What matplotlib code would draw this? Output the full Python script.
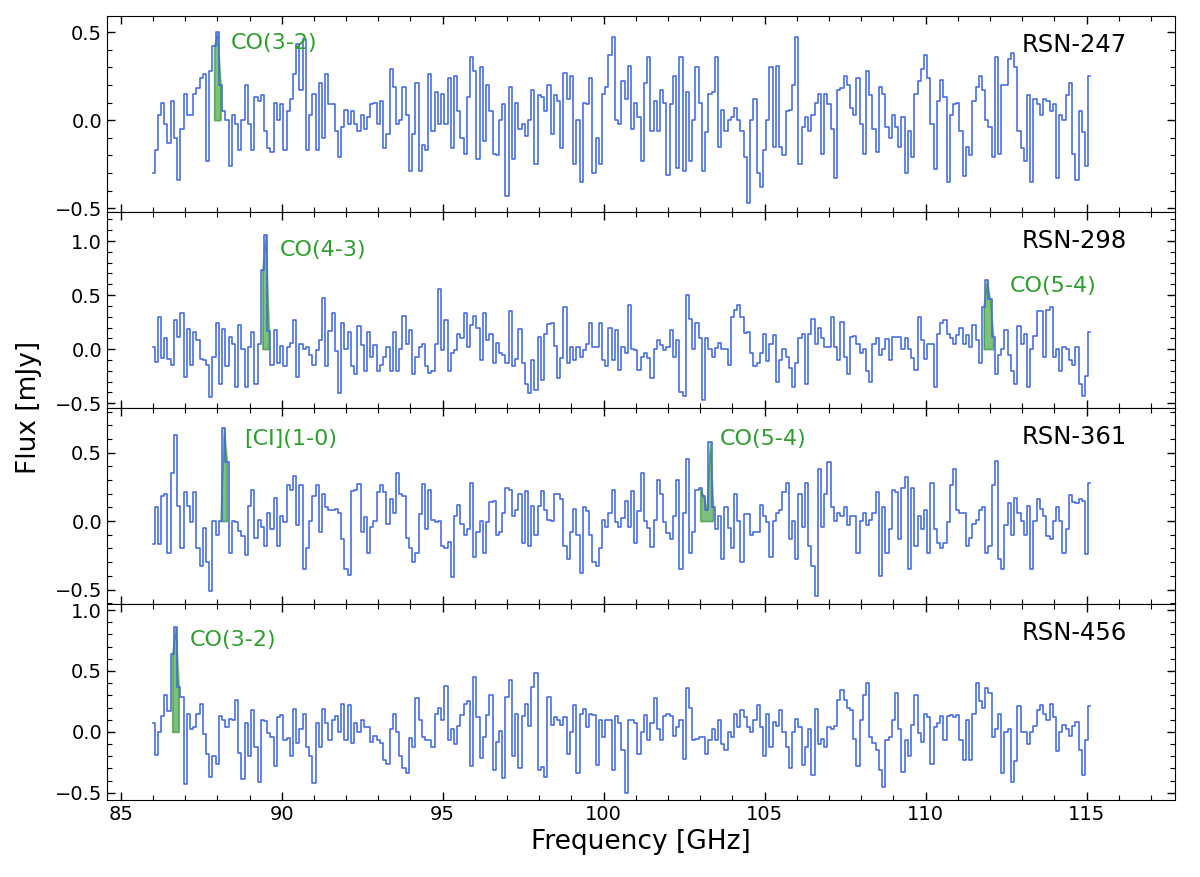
import numpy as np
import matplotlib
matplotlib.use("Agg")
import matplotlib.pyplot as plt
from matplotlib.ticker import MultipleLocator, AutoMinorLocator

# channel start frequency and width (GHz)
f_start = 86.0
chan_width = 0.1

sources = ["RSN-247", "RSN-298", "RSN-361", "RSN-456"]

flux_rsn247 = [
    -0.30, -0.17, 0.03, 0.10, -0.02, -0.13, 0.11, -0.10, -0.34, -0.05,
    0.15, 0.03, 0.03, 0.15, 0.18, 0.24, 0.26, -0.23, 0.28, 0.42,
    0.50, 0.20, 0.05, 0.00, -0.26, 0.03, -0.02, -0.17, 0.00, 0.20,
    -0.02, -0.17, 0.13, 0.11, 0.14, -0.06, -0.16, -0.18, 0.10, 0.00,
    0.09, -0.17, 0.05, 0.12, 0.26, 0.43, 0.17, 0.46, -0.17, 0.03,
    0.15, -0.17, 0.21, -0.10, 0.26, 0.09, 0.09, -0.06, -0.21, -0.04,
    0.06, -0.02, 0.05, -0.02, -0.06, 0.03, -0.05, 0.02, 0.09, 0.10,
    -0.02, 0.11, -0.16, -0.08, 0.29, 0.19, -0.02, 0.00, 0.19, 0.03,
    -0.29, -0.08, 0.21, -0.29, -0.14, -0.17, 0.26, -0.06, 0.16, -0.02,
    0.15, -0.02, 0.24, -0.16, 0.25, 0.05, -0.10, -0.19, 0.13, 0.36,
    0.28, -0.22, 0.30, -0.12, 0.20, 0.05, -0.19, -0.20, 0.00, 0.09,
    -0.43, 0.19, -0.22, 0.10, -0.05, -0.02, -0.09, 0.00, 0.17, -0.25,
    0.14, 0.13, 0.05, 0.20, -0.08, 0.14, 0.11, -0.16, 0.27, 0.12,
    0.25, -0.25, 0.00, -0.35, 0.10, 0.09, 0.24, -0.30, -0.10, -0.25,
    0.15, 0.19, 0.37, 0.47, 0.00, -0.02, 0.22, 0.12, 0.31, -0.05,
    0.10, 0.02, -0.23, 0.21, 0.36, -0.06, 0.11, -0.06, 0.17, 0.10,
    -0.31, 0.09, 0.25, -0.27, 0.36, -0.29, 0.16, -0.23, 0.00, 0.30,
    0.10, -0.29, -0.07, 0.15, 0.16, 0.36, -0.15, 0.06, -0.06, 0.00,
    0.02, 0.07, 0.00, -0.06, -0.21, -0.47, 0.00, 0.12, -0.30, -0.38,
    -0.17, 0.00, 0.30, -0.15, 0.31, -0.15, -0.20, 0.05, 0.06, 0.20,
    0.47, -0.25, -0.04, 0.02, -0.06, 0.03, 0.10, 0.15, -0.19, 0.15,
    0.09, -0.05, -0.33, 0.17, 0.18, 0.25, 0.20, 0.07, 0.03, 0.24,
    -0.02, -0.19, 0.28, 0.14, -0.05, -0.18, 0.19, 0.15, -0.04, -0.10,
    0.03, -0.04, -0.15, 0.02, -0.30, -0.06, -0.21, 0.15, 0.22, 0.29,
    0.37, 0.24, -0.02, -0.28, 0.11, 0.23, 0.13, -0.35, 0.03, 0.09,
    0.10, -0.06, -0.32, -0.15, -0.20, 0.11, 0.19, 0.25, 0.17, 0.00,
    -0.04, -0.21, 0.36, -0.19, 0.20, 0.20, 0.35, 0.38, 0.30, -0.06,
    -0.16, -0.23, 0.14, -0.35, 0.12, 0.09, 0.03, 0.12, 0.11, 0.05,
    0.09, -0.33, 0.03, 0.00, 0.14, 0.21, -0.19, -0.34, 0.05, -0.07,
    -0.26, 0.25,
]

flux_rsn298 = [
    0.02, -0.12, 0.30, -0.08, 0.10, -0.09, -0.15, 0.27, 0.11, 0.33,
    -0.26, 0.19, -0.15, 0.16, 0.08, -0.09, -0.10, -0.15, -0.44, -0.07,
    0.24, -0.32, 0.19, -0.16, 0.11, 0.05, -0.35, 0.22, 0.00, -0.35,
    0.02, 0.16, -0.32, 0.05, 0.73, 1.06, 0.17, -0.15, 0.18, -0.13,
    0.03, -0.16, 0.02, 0.06, 0.27, -0.26, 0.05, 0.00, 0.02, -0.05,
    -0.15, -0.01, 0.08, 0.47, -0.16, 0.17, 0.33, -0.02, -0.41, 0.24,
    0.00, 0.16, -0.16, -0.23, 0.21, 0.04, -0.20, 0.16, -0.07, 0.04,
    -0.20, -0.15, -0.07, 0.02, -0.20, 0.16, -0.20, 0.00, 0.31, 0.05,
    0.18, -0.23, -0.07, 0.02, 0.05, -0.16, -0.22, -0.20, 0.05, 0.56,
    -0.01, 0.27, -0.20, -0.04, -0.01, 0.14, 0.10, 0.33, 0.02, 0.22,
    0.31, 0.20, -0.10, 0.33, 0.08, 0.14, -0.13, 0.06, -0.04, -0.05,
    -0.13, 0.35, -0.16, -0.09, 0.19, -0.13, -0.32, -0.41, -0.10, -0.38,
    0.11, -0.29, 0.14, 0.23, 0.24, 0.03, -0.27, -0.08, 0.39, -0.13,
    0.02, -0.10, 0.02, -0.07, -0.01, 0.05, 0.24, 0.02, 0.02, 0.24,
    -0.10, -0.16, 0.20, -0.10, 0.18, -0.19, 0.02, -0.04, 0.41, 0.00,
    -0.01, -0.19, -0.07, -0.04, -0.08, -0.27, 0.00, 0.08, 0.04, -0.01,
    0.02, 0.18, -0.07, 0.08, -0.40, -0.43, 0.50, 0.28, 0.00, 0.24,
    0.10, -0.47, 0.10, 0.00, -0.07, 0.01, 0.06, 0.00, 0.00, -0.15,
    0.30, 0.36, 0.41, 0.30, 0.15, 0.16, -0.04, -0.16, -0.13, -0.04,
    0.14, -0.11, 0.05, 0.13, -0.30, -0.10, 0.00, -0.07, -0.17, -0.35,
    -0.13, 0.10, 0.14, -0.32, 0.14, 0.28, 0.05, 0.20, 0.10, 0.02,
    0.02, 0.30, 0.02, -0.10, 0.25, -0.07, -0.23, 0.11, 0.12, 0.05,
    -0.04, 0.00, -0.20, -0.30, 0.05, 0.10, -0.05, 0.00, 0.09, -0.10,
    0.11, 0.11, 0.11, 0.00, 0.10, 0.00, -0.08, -0.19, 0.30, 0.08,
    -0.09, 0.05, 0.05, -0.35, 0.14, 0.24, 0.27, 0.14, 0.10, 0.05,
    0.13, 0.20, 0.05, 0.13, 0.02, 0.22, 0.08, -0.13, 0.39, 0.64,
    0.46, 0.11, -0.23, -0.05, 0.00, 0.18, -0.05, -0.20, -0.32, 0.21,
    0.05, 0.14, -0.35, 0.00, 0.12, 0.35, 0.35, -0.07, 0.36, 0.39,
    -0.07, 0.00, -0.20, 0.02, 0.00, -0.10, -0.15, 0.02, -0.32, -0.43,
    -0.25, 0.16,
]

flux_rsn361 = [
    -0.17, 0.10, -0.17, 0.18, 0.20, -0.23, 0.35, 0.63, 0.11, -0.20,
    0.21, 0.11, -0.01, 0.21, -0.20, -0.33, -0.05, -0.30, -0.51, 0.00,
    -0.10, 0.00, 0.68, 0.43, -0.23, 0.00, -0.01, -0.07, -0.11, -0.25,
    0.11, 0.23, -0.12, 0.01, -0.04, -0.18, 0.06, -0.06, 0.17, -0.18,
    0.04, -0.01, 0.26, 0.23, 0.33, -0.03, 0.26, -0.35, -0.20, 0.00,
    0.18, 0.26, -0.08, 0.20, 0.10, 0.08, 0.08, 0.09, 0.06, -0.13,
    -0.35, -0.39, 0.22, 0.23, 0.27, -0.08, 0.03, -0.23, -0.04, 0.00,
    0.21, 0.26, 0.21, -0.02, 0.16, 0.06, 0.35, 0.20, 0.18, -0.12,
    -0.20, -0.30, -0.23, 0.05, 0.27, -0.06, 0.23, 0.01, -0.01, 0.00,
    -0.18, -0.20, -0.15, -0.41, 0.04, 0.12, -0.02, -0.10, -0.06, 0.28,
    -0.26, -0.08, 0.00, -0.23, -0.01, 0.14, 0.15, -0.10, -0.08, 0.06,
    0.24, 0.23, 0.04, 0.08, 0.20, -0.16, 0.22, -0.18, 0.11, -0.10,
    0.11, 0.22, 0.08, 0.01, 0.00, 0.20, 0.20, 0.16, -0.18, -0.28,
    -0.08, 0.09, -0.10, -0.38, 0.10, 0.07, -0.10, -0.30, -0.33, -0.20,
    0.01, -0.04, 0.06, 0.23, -0.01, -0.04, 0.02, 0.15, -0.04, 0.22,
    -0.16, 0.07, 0.35, 0.00, -0.05, -0.19, 0.01, 0.30, 0.20, -0.01,
    -0.09, -0.13, 0.04, 0.30, -0.35, 0.06, 0.45, -0.23, -0.08, 0.23,
    0.24, 0.18, 0.08, 0.58, 0.10, -0.06, 0.04, -0.28, 0.10, -0.05,
    -0.20, 0.20, 0.00, -0.30, 0.05, 0.05, -0.10, -0.08, -0.08, 0.12,
    0.04, -0.01, -0.26, 0.00, 0.06, 0.08, 0.21, 0.28, -0.13, 0.00,
    -0.28, 0.20, -0.04, 0.28, -0.18, -0.33, -0.55, 0.38, -0.04, 0.20,
    0.43, 0.10, 0.00, 0.06, 0.04, 0.10, -0.03, 0.04, 0.04, -0.23,
    0.00, 0.06, -0.03, 0.01, 0.06, 0.21, -0.40, 0.10, -0.23, -0.06,
    0.23, 0.21, -0.13, 0.24, 0.32, -0.35, 0.24, -0.18, 0.04, -0.06,
    0.08, -0.23, 0.28, -0.06, -0.16, -0.20, -0.16, -0.01, 0.26, 0.38,
    0.08, 0.06, 0.06, -0.18, -0.12, -0.02, 0.01, 0.08, 0.10, -0.23,
    -0.18, 0.26, 0.44, -0.28, -0.35, -0.03, 0.13, -0.10, 0.17, 0.06,
    0.00, -0.10, 0.11, -0.35, 0.00, 0.16, 0.09, 0.04, -0.11, -0.13,
    0.00, 0.10, 0.00, -0.23, -0.06, 0.19, 0.14, 0.13, 0.16, 0.15,
    -0.24, 0.28,
]

flux_rsn456 = [
    0.07, -0.19, 0.00, 0.13, 0.30, 0.17, 0.64, 0.86, 0.37, 0.29,
    -0.43, 0.15, 0.02, 0.04, 0.15, 0.23, -0.02, -0.18, -0.37, -0.20,
    -0.26, 0.13, 0.10, 0.04, 0.11, 0.10, 0.26, -0.17, -0.39, 0.07,
    -0.20, 0.18, -0.12, -0.41, 0.10, 0.09, -0.01, -0.04, -0.28, 0.12,
    0.14, -0.07, -0.05, -0.20, 0.19, -0.09, 0.02, 0.15, -0.12, -0.20,
    -0.42, 0.07, -0.12, 0.19, 0.07, -0.07, 0.10, 0.13, 0.00, 0.23,
    -0.07, 0.22, -0.09, 0.07, 0.00, 0.10, 0.04, 0.04, -0.08, -0.03,
    -0.07, -0.09, -0.23, -0.26, 0.02, 0.15, 0.00, -0.20, -0.30, -0.34,
    -0.05, -0.12, 0.28, 0.10, -0.04, -0.07, -0.07, -0.12, 0.15, 0.20,
    0.10, 0.38, -0.07, 0.02, -0.10, 0.05, 0.14, 0.23, 0.25, -0.28,
    0.45, 0.12, -0.21, -0.04, 0.14, 0.30, -0.31, -0.08, 0.01, -0.38,
    0.29, 0.43, -0.20, 0.15, -0.30, 0.13, 0.23, 0.05, 0.37, 0.48,
    -0.31, -0.29, -0.37, 0.29, 0.06, 0.12, 0.10, 0.06, 0.12, -0.18,
    0.00, 0.22, -0.34, 0.15, 0.19, 0.04, 0.15, 0.14, -0.27, 0.10,
    -0.04, 0.10, 0.10, -0.31, 0.13, 0.07, -0.15, -0.50, 0.10, 0.10,
    0.07, -0.18, 0.00, 0.14, -0.07, 0.07, 0.28, 0.02, -0.07, 0.13,
    0.15, 0.13, -0.03, 0.04, 0.10, -0.22, 0.36, 0.20, -0.07, -0.06,
    -0.04, -0.04, -0.18, -0.07, 0.02, -0.07, 0.10, -0.10, -0.15, 0.00,
    -0.04, 0.15, 0.04, 0.18, 0.12, 0.04, 0.00, 0.10, 0.22, 0.04,
    -0.20, 0.15, -0.12, 0.08, 0.05, 0.18, 0.00, -0.12, -0.30, 0.00,
    0.11, 0.04, -0.27, -0.12, 0.02, -0.35, 0.19, -0.10, -0.06, -0.12,
    0.04, 0.02, 0.05, 0.26, 0.34, 0.26, 0.20, 0.18, -0.06, -0.28,
    0.10, 0.30, 0.40, -0.04, -0.09, -0.15, -0.31, -0.45, -0.07, -0.04,
    0.10, 0.32, 0.02, -0.33, -0.07, -0.20, 0.06, 0.30, -0.01, -0.08,
    0.15, 0.12, -0.26, 0.04, 0.07, 0.13, -0.07, 0.13, 0.14, 0.12,
    0.14, -0.07, -0.23, 0.10, -0.23, 0.15, 0.40, 0.25, 0.20, 0.36,
    0.32, -0.04, 0.02, 0.15, -0.34, 0.00, 0.02, -0.41, -0.24, 0.21,
    0.00, 0.00, -0.10, 0.00, 0.05, 0.18, 0.22, 0.15, 0.10, 0.23,
    0.12, -0.16, 0.00, 0.06, 0.02, -0.03, 0.05, 0.08, -0.15, -0.35,
    -0.07, 0.21,
]

all_flux = [flux_rsn247, flux_rsn298, flux_rsn361, flux_rsn456]

# emission lines: panel index, label, frequency range of the shaded area, label anchor
line_panel = [0, 1, 1, 2, 2, 3]
line_label = ["CO(3-2)", "CO(4-3)", "CO(5-4)", "[CI](1-0)", "CO(5-4)", "CO(3-2)"]
line_lo = [87.85, 89.35, 111.75, 88.05, 102.95, 86.55]
line_hi = [88.15, 89.65, 112.15, 88.35, 103.45, 86.85]
label_x = [88.42, 89.93, 112.6, 88.84, 103.61, 87.15]
label_y = [0.436, 0.917, 0.583, 0.596, 0.596, 0.754]

ylims = [(-0.521, 0.593), (-0.543, 1.271), (-0.604, 0.827), (-0.557, 1.051)]
xlim = (84.575, 117.74)

fig = plt.figure(figsize=(12, 8.77), dpi=100)
gs = fig.add_gridspec(4, 1, left=0.0892, right=0.979, top=0.982, bottom=0.088, hspace=0)
axes = [fig.add_subplot(gs[i]) for i in range(4)]
for a in axes[1:]:
    a.sharex(axes[0])

blue = "#4169E1"
for i, ax in enumerate(axes):
    flux = np.array(all_flux[i])
    freq = np.round(f_start + chan_width * np.arange(len(flux)), 3)
    ax.step(freq, flux, where="mid", color=blue, lw=1.15)
    for k in range(len(line_label)):
        if line_panel[k] != i:
            continue
        m = (freq >= line_lo[k]) & (freq <= line_hi[k])
        ax.fill_between(freq[m], 0, flux[m], color="green", alpha=0.5, lw=1.2)
        ax.text(label_x[k], label_y[k], line_label[k], color="#2ca02c", fontsize=16,
                ha="left", va="center")
    ax.text(0.955, 0.85, sources[i], transform=ax.transAxes, ha="right", va="center",
            fontsize=17.5, color="black")
    ax.set_ylim(*ylims[i])
    ax.set_xlim(*xlim)
    ax.yaxis.set_major_locator(MultipleLocator(0.5))
    ax.yaxis.set_minor_locator(AutoMinorLocator(5))
    ax.xaxis.set_major_locator(MultipleLocator(5))
    ax.xaxis.set_minor_locator(MultipleLocator(1))
    ax.tick_params(which="both", direction="in", top=True, right=True, labelsize=14)
    ax.tick_params(which="major", length=6, width=1.0)
    ax.tick_params(which="minor", length=3.5, width=0.8)
    if i < 3:
        ax.tick_params(labelbottom=False)

axes[-1].set_xlabel("Frequency [GHz]", fontsize=19)
fig.text(0.024, 0.535, "Flux [mJy]", rotation=90, fontsize=19, ha="center", va="center")

fig.savefig("out.png", dpi=100)
